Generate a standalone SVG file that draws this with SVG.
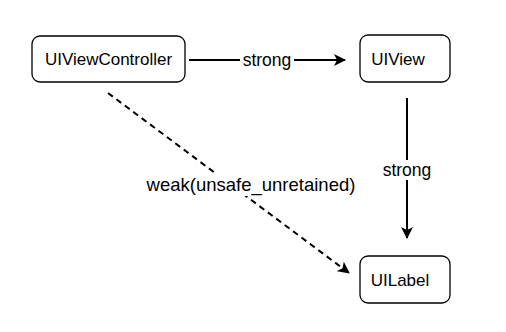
<svg xmlns="http://www.w3.org/2000/svg" width="506" height="332" viewBox="0 0 506 332">
<style>
.node rect{fill:#fff;stroke:#000;stroke-width:1.3}
text{font-family:"Liberation Sans",Arial,Helvetica,sans-serif;fill:#000;text-anchor:middle}
.nt{font-size:17px}
.lbl{font-size:17.5px}
.edge{stroke:#000;stroke-width:2;fill:none}
.bg{fill:#fff}
</style>
<defs>
<marker id="arr" viewBox="0 0 12 12" refX="11" refY="6" markerWidth="12" markerHeight="12" markerUnits="userSpaceOnUse" orient="auto">
<path d="M0,0 L12,6 L0,12 L3,6 Z" fill="#000"/>
</marker>
</defs>
<rect width="506" height="332" fill="#fff"/>
<g id="connectors">
<path class="edge" d="M189,60 L345,60" marker-end="url(#arr)"/>
<rect class="bg" x="240" y="50" width="54" height="20"/>
<text class="lbl" x="267" y="66">strong</text>
<path class="edge" d="M407,98 L407,238" marker-end="url(#arr)"/>
<rect class="bg" x="380" y="160" width="54" height="20"/>
<text class="lbl" x="407" y="176">strong</text>
<path class="edge" d="M108,93 L349,273" stroke-width="2.4" stroke-dasharray="6,4.5" marker-end="url(#arr)"/>
<rect class="bg" x="142" y="174" width="218" height="22"/>
<text x="251" y="191" style="font-size:18.5px">weak(unsafe_unretained)</text>
</g>
<g id="uiviewcontroller" class="node">
<rect x="32" y="36" width="153" height="46" rx="8"/>
<text class="nt" x="108.5" y="65">UIViewController</text>
</g>
<g id="uiview" class="node">
<rect x="360" y="35" width="90" height="47" rx="8"/>
<text class="nt" x="398" y="65">UIView</text>
</g>
<g id="uilabel" class="node">
<rect x="360" y="256" width="90" height="47" rx="8"/>
<text class="nt" x="400" y="286">UILabel</text>
</g>
</svg>
